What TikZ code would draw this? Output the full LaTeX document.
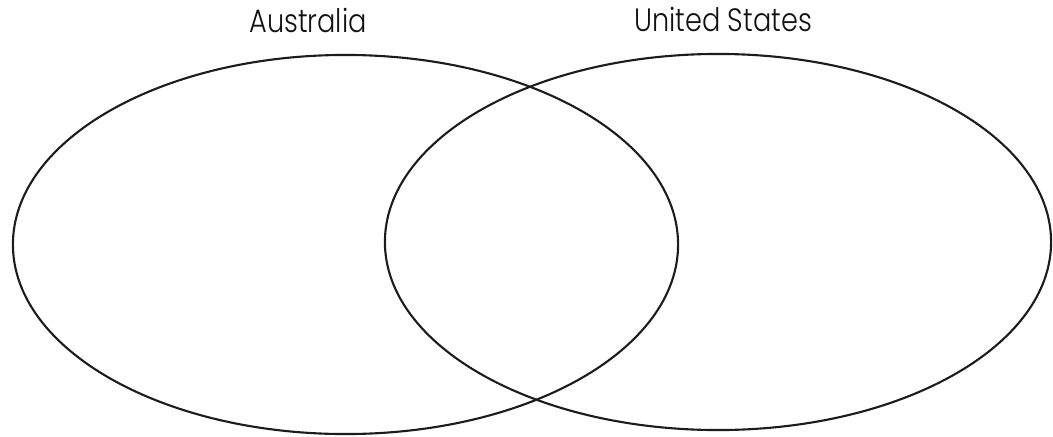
\documentclass[tikz,border=0pt]{standalone}
\usepackage{fontspec}
\setmainfont{Poppins}[UprightFont={* Light}, FakeStretch=0.84]
\usetikzlibrary{shapes.geometric}
\definecolor{set-border}{HTML}{1C1C1C}
\definecolor{set-label}{HTML}{111111}
\tikzset{
  venn-set/.style={
    ellipse, draw=set-border, line width=1.5pt, inner sep=0pt
  },
  venn-label/.style={
    anchor=base, text=set-label, inner sep=0pt, font=\fontsize{23pt}{26pt}\selectfont
  }
}

\begin{document}
\begin{tikzpicture}[x=0.025cm, y=0.025cm]
  \useasboundingbox (0, 0) rectangle (1053, 436);

  % The two sets
  \node[venn-set, minimum width=16.625cm, minimum height=9.475cm] (aus) at (345.5, 191.5) {};
  \node[venn-set, minimum width=16.65cm, minimum height=9.4cm] (usa) at (718, 194) {};

  % Set names above each ellipse
  \node[venn-label] (aus-name) at (308, 403) {Australia};
  \node[venn-label] (usa-name) at (723, 404) {United States};
\end{tikzpicture}
\end{document}
